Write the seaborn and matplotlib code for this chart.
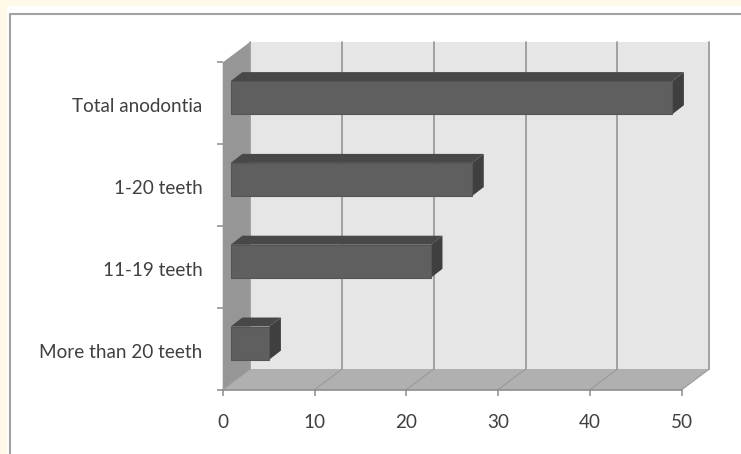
import matplotlib
matplotlib.use("Agg")
import matplotlib.pyplot as plt
from matplotlib.patches import Polygon, Rectangle
import pandas as pd
import seaborn as sns

categories = ["Total anodontia", "1-20 teeth", "11-19 teeth", "More than 20 teeth"]
values = [48.1, 26.3, 21.8, 4.2]
x_ticks = [0, 10, 20, 30, 40, 50]

W, H = 741, 454
sns.set_theme(style="white")
plt.rcParams["font.family"] = ["Lato", "DejaVu Sans"]

fig = plt.figure(figsize=(W / 100, H / 100), dpi=100, facecolor="white")

# page background and outer frame
cream = "#FFF9E8"
fig.add_artist(Rectangle((0, 1 - 6 / H), 1, 6 / H, transform=fig.transFigure, fc=cream, ec="none"))
fig.add_artist(Rectangle((0, 0), 7 / W, 1, transform=fig.transFigure, fc=cream, ec="none"))
fig.add_artist(plt.Line2D([10 / W, 10 / W, 1], [0, 1 - 14.2 / H, 1 - 14.2 / H],
                          transform=fig.transFigure, color="#a2a2a2", lw=1.5))

# axes: front plane of the pseudo-3D box
x0, x1, y_top, y_bot = 222.7, 681.7, 62.5, 389.7
ax = fig.add_axes([x0 / W, 1 - y_bot / H, (x1 - x0) / W, (y_bot - y_top) / H])
ax.patch.set_alpha(0)

df = pd.DataFrame({"category": categories, "value": values})
sns.barplot(data=df, y="category", x="value", orient="h", color="#5f5f5f", saturation=1,
            width=0.405, ax=ax, zorder=5, edgecolor="#555555", linewidth=0.8)
ax.set_xlim(0, 50)
ax.set_ylim(3.5, -0.5)
ax.set_xlabel("")
ax.set_ylabel("")

# depth of the box and of the bars, in data units
DX, DY = 3.0, 0.253
BAR_X, BAR_Y = 0.87, -0.07
BDX, BDY = 1.27, 0.11

# walls
ax.add_patch(Polygon([(0, -0.5), (DX, -0.5 - DY), (DX, 3.5 - DY), (0, 3.5)], fc="#969696", ec="none", clip_on=False, zorder=1))
ax.add_patch(Rectangle((DX, -0.5 - DY), 50, 4, fc="#e6e6e6", ec="none", clip_on=False, zorder=1))
ax.add_patch(Polygon([(0, 3.5), (50, 3.5), (50 + DX, 3.5 - DY), (DX, 3.5 - DY)], fc="#b0b0b0", ec="none", clip_on=False, zorder=1))

# gridlines on the back wall and floor
grid = "#9c9c9c"
for t in x_ticks:
    ax.plot([t + DX, t + DX], [-0.5 - DY, 3.5 - DY], color=grid, lw=1.3, clip_on=False, zorder=2)
    ax.plot([t, t + DX], [3.5, 3.5 - DY], color=grid, lw=0.9, clip_on=False, zorder=2)

# bars: shift the front faces, add top and side faces
for p in ax.patches[:len(values)]:
    p.set_x(p.get_x() + BAR_X)
    p.set_y(p.get_y() + BAR_Y)
    l, r = p.get_x(), p.get_x() + p.get_width()
    t, b = p.get_y(), p.get_y() + p.get_height()
    ax.add_patch(Polygon([(l, t), (l + BDX, t - BDY), (r + BDX, t - BDY), (r, t)],
                         fc="#484848", ec="none", clip_on=False, zorder=4))
    ax.add_patch(Polygon([(r, t), (r + BDX, t - BDY), (r + BDX, b - BDY), (r, b)],
                         fc="#3f3f3f", ec="none", clip_on=False, zorder=4))

# axes lines and ticks
sns.despine(ax=ax, top=True, right=True)
for s in ("left", "bottom"):
    ax.spines[s].set_color("#8c8c8c")
    ax.spines[s].set_linewidth(1.2)
    ax.spines[s].set_zorder(3)
ax.spines["left"].set_visible(False)
ax.set_xticks(x_ticks)
ax.set_yticks([-0.5, 0.5, 1.5, 2.5, 3.5])
ax.set_yticklabels([])
ax.tick_params(axis="x", length=4.5, width=1.1, color="#8c8c8c", pad=13, labelsize=13.6, labelcolor="#404040", bottom=True)
ax.tick_params(axis="y", length=4, width=1.1, color="#8c8c8c", left=True)
for i, c in enumerate(categories):
    ax.annotate(c, xy=(0, i), xytext=(-14.5, -2.5), textcoords="offset points",
                ha="right", va="center", fontsize=13.6, color="#404040", annotation_clip=False)

fig.savefig("out.png", dpi=100)
